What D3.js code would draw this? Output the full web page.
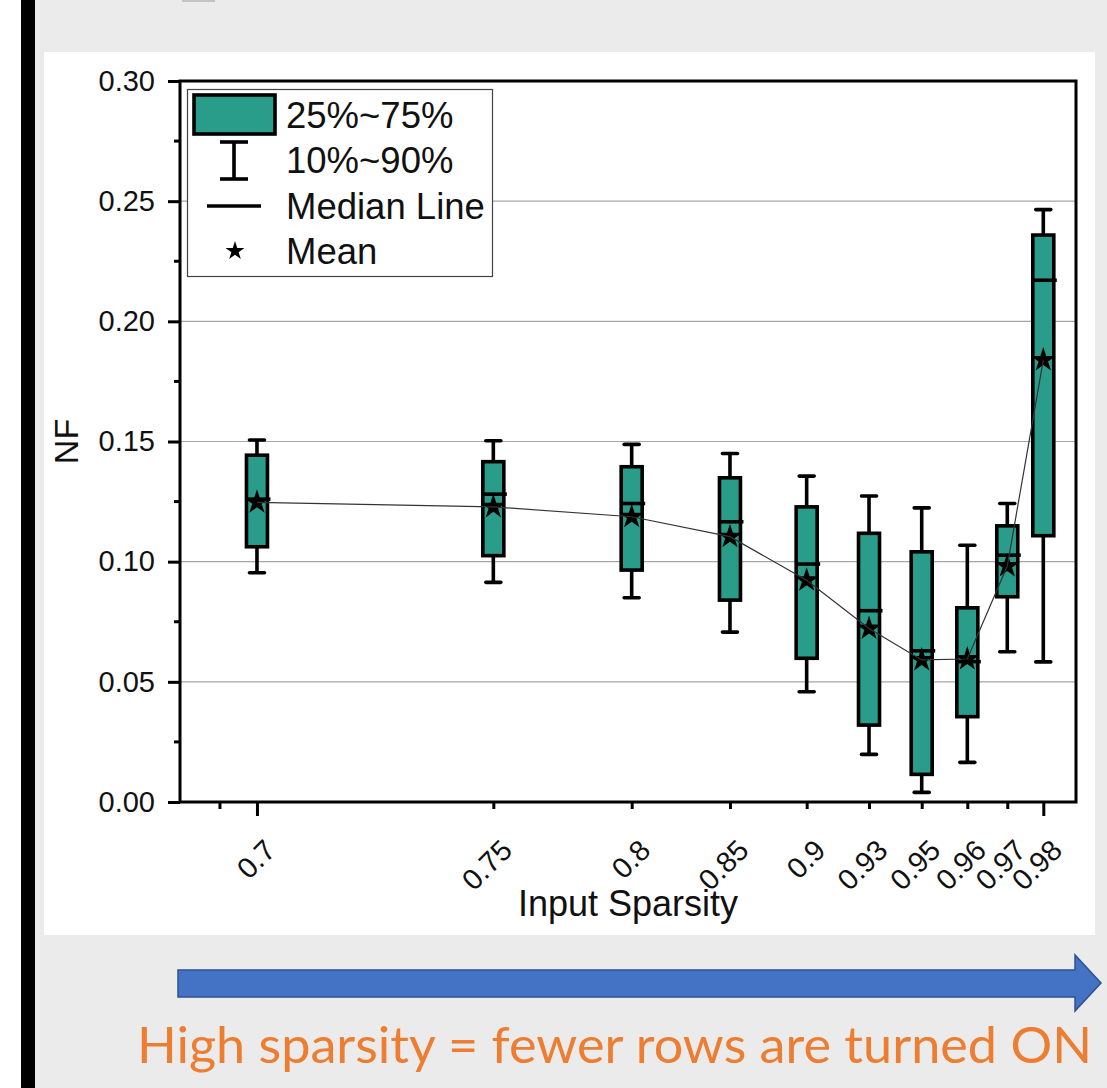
<!DOCTYPE html>
<html>
<head>
<meta charset="utf-8">
<script src="https://cdn.jsdelivr.net/npm/d3@7"></script>
<style>
  body { margin: 0; background: #fff; }
  svg { display: block; }
</style>
</head>
<body>
<div id="chart"></div>
<script>
// ---- data ----
const sparsity = [0.7, 0.75, 0.8, 0.85, 0.9, 0.93, 0.95, 0.96, 0.97, 0.98];
const sparsityLabels = ["0.7", "0.75", "0.8", "0.85", "0.9", "0.93", "0.95", "0.96", "0.97", "0.98"];
const p10    = [0.0954, 0.0914, 0.0850, 0.0707, 0.0459, 0.0198, 0.0040, 0.0165, 0.0625, 0.0583];
const q1     = [0.1062, 0.1025, 0.0965, 0.0840, 0.0598, 0.0320, 0.0115, 0.0355, 0.0854, 0.1108];
const median = [0.1260, 0.1281, 0.1242, 0.1166, 0.0990, 0.0796, 0.0629, 0.0584, 0.1027, 0.2171];
const q3     = [0.1443, 0.1416, 0.1395, 0.1349, 0.1228, 0.1118, 0.1041, 0.0808, 0.1149, 0.2359];
const p90    = [0.1506, 0.1503, 0.1488, 0.1450, 0.1356, 0.1273, 0.1224, 0.1068, 0.1242, 0.2465];
const mean   = [0.1247, 0.1228, 0.1187, 0.1104, 0.0923, 0.0722, 0.0591, 0.0595, 0.0982, 0.1839];

const yTicks = [0, 0.05, 0.10, 0.15, 0.20, 0.25, 0.30];
const yTickLabels = ["0.00", "0.05", "0.10", "0.15", "0.20", "0.25", "0.30"];
const legendLabels = ["25%~75%", "10%~90%", "Median Line", "Mean"];
const caption = "High sparsity = fewer rows are turned ON";

const W = 1107, H = 1088;
const margin = { top: 81, right: 1076, bottom: 802, left: 180 };
const teal = "#2a9c8a";
const font = "'Liberation Sans', Arial, sans-serif";
const sw = 3.6; // heavy Origin-style strokes

const svg = d3.select("#chart").append("svg")
    .attr("width", W).attr("height", H);

// backdrop: slide strip, grey page, white chart panel
svg.append("rect").attr("width", W).attr("height", H).attr("fill", "#ebebeb");
svg.append("rect").attr("x", 0).attr("width", 21).attr("height", H).attr("fill", "#fff");
svg.append("rect").attr("x", 21).attr("width", 14).attr("height", H).attr("fill", "#000");
svg.append("rect").attr("x", 182).attr("y", 0).attr("width", 33).attr("height", 2).attr("fill", "#c4c4c4");
svg.append("rect").attr("x", 44).attr("y", 52).attr("width", 1051).attr("height", 883).attr("fill", "#fff");

// Scales. The categories sit unevenly on the x axis in the original plot,
// so x is a piecewise linear scale over fractions of the axis length.
const axisFrac = [0.0859, 0.3497, 0.5041, 0.6138, 0.6994, 0.769, 0.8278, 0.8787, 0.9233, 0.9635];
const plotW = margin.right - margin.left;
const x = d3.scaleLinear()
    .domain(sparsity)
    .range(axisFrac.map(f => margin.left + f * plotW));

const y = d3.scaleLinear()
    .domain([0, 0.30])
    .range([margin.bottom, margin.top]);

// horizontal grid
svg.append("g")
    .selectAll("line")
    .data(yTicks.filter(t => t > 0 && t < 0.30))
    .join("line")
    .attr("x1", margin.left).attr("x2", margin.right)
    .attr("y1", d => y(d)).attr("y2", d => y(d))
    .attr("stroke", "#a6a6a6").attr("stroke-width", 1.2);

// boxes
const boxW = 21, capW = 15;
const boxes = svg.append("g").selectAll("g")
    .data(sparsity.map((s, i) => ({ s, p10: p10[i], q1: q1[i], med: median[i], q3: q3[i], p90: p90[i], mean: mean[i] })))
    .join("g")
    .attr("transform", d => `translate(${x(d.s)},0)`);

boxes.append("line")
    .attr("y1", d => y(d.p90)).attr("y2", d => y(d.q3))
    .attr("stroke", "#000").attr("stroke-width", sw);
boxes.append("line")
    .attr("y1", d => y(d.q1)).attr("y2", d => y(d.p10))
    .attr("stroke", "#000").attr("stroke-width", sw);
boxes.append("line")
    .attr("x1", -capW / 2).attr("x2", capW / 2)
    .attr("y1", d => y(d.p90)).attr("y2", d => y(d.p90))
    .attr("stroke", "#000").attr("stroke-width", sw).attr("stroke-linecap", "round");
boxes.append("line")
    .attr("x1", -capW / 2).attr("x2", capW / 2)
    .attr("y1", d => y(d.p10)).attr("y2", d => y(d.p10))
    .attr("stroke", "#000").attr("stroke-width", sw).attr("stroke-linecap", "round");
boxes.append("rect")
    .attr("x", -boxW / 2).attr("width", boxW)
    .attr("y", d => y(d.q3)).attr("height", d => y(d.q1) - y(d.q3))
    .attr("fill", teal).attr("stroke", "#000").attr("stroke-width", sw);
boxes.append("line")
    .attr("x1", -boxW / 2).attr("x2", boxW / 2 + 3)
    .attr("y1", d => y(d.med)).attr("y2", d => y(d.med))
    .attr("stroke", "#000").attr("stroke-width", sw);

// mean connector over the boxes, then the stars
svg.append("path")
    .datum(sparsity.map((s, i) => [s, mean[i]]))
    .attr("fill", "none")
    .attr("stroke", "#333").attr("stroke-width", 1.2)
    .attr("d", d3.line().x(d => x(d[0])).y(d => y(d[1])));

boxes.append("path")
    .attr("transform", d => `translate(0,${y(d.mean)})`)
    .attr("d", d3.symbol(d3.symbolStar, 190))
    .attr("fill", "#000");

// y axis
const yAxis = svg.append("g")
    .attr("transform", `translate(${margin.left},0)`)
    .call(d3.axisLeft(y).tickValues(yTicks).tickSize(12).tickFormat((d, i) => yTickLabels[i]));
yAxis.select(".domain").remove();
yAxis.selectAll(".tick line").attr("stroke", "#000").attr("stroke-width", 3);
yAxis.selectAll(".tick text")
    .attr("x", -25).attr("font-family", font).attr("font-size", 29).attr("fill", "#111");

// y minor ticks
svg.append("g").selectAll("line")
    .data(d3.range(0.025, 0.30, 0.05))
    .join("line")
    .attr("x1", margin.left - 6).attr("x2", margin.left)
    .attr("y1", d => y(d)).attr("y2", d => y(d))
    .attr("stroke", "#000").attr("stroke-width", 3);

// x axis: major ticks at the ends, minor in between
const xAxis = svg.append("g")
    .attr("transform", `translate(0,${margin.bottom})`)
    .call(d3.axisBottom(x).tickValues(sparsity).tickSize(7).tickFormat((d, i) => sparsityLabels[i]));
xAxis.select(".domain").remove();
xAxis.selectAll(".tick line")
    .attr("stroke", "#000").attr("stroke-width", 3)
    .attr("y2", (d, i) => (i === 0 || i === sparsity.length - 1) ? 14 : 7);
xAxis.selectAll(".tick text")
    .attr("font-family", font).attr("font-size", 29).attr("fill", "#111")
    .attr("text-anchor", "end")
    .attr("dy", null)
    .attr("y", 0)
    .attr("transform", "translate(20,50) rotate(-45)");

// extra minor tick left of the first category
svg.append("line")
    .attr("x1", margin.left + 0.0446 * plotW).attr("x2", margin.left + 0.0446 * plotW)
    .attr("y1", margin.bottom).attr("y2", margin.bottom + 7)
    .attr("stroke", "#000").attr("stroke-width", 3);

// frame
svg.append("rect")
    .attr("x", margin.left).attr("y", margin.top)
    .attr("width", plotW).attr("height", margin.bottom - margin.top)
    .attr("fill", "none").attr("stroke", "#000").attr("stroke-width", 3);

// axis titles
svg.append("text")
    .attr("x", (margin.left + margin.right) / 2).attr("y", 916)
    .attr("text-anchor", "middle")
    .attr("font-family", font).attr("font-size", 36).attr("fill", "#111")
    .text("Input Sparsity");
svg.append("text")
    .attr("transform", `translate(78,${(margin.top + margin.bottom) / 2}) rotate(-90)`)
    .attr("text-anchor", "middle")
    .attr("font-family", font).attr("font-size", 34).attr("fill", "#111")
    .text("NF");

// legend
const lg = svg.append("g");
lg.append("rect")
    .attr("x", 187.5).attr("y", 89.5).attr("width", 305).attr("height", 187)
    .attr("fill", "#fff").attr("stroke", "#444").attr("stroke-width", 1.2);
lg.append("rect")
    .attr("x", 194).attr("y", 95).attr("width", 81).attr("height", 39)
    .attr("fill", teal).attr("stroke", "#000").attr("stroke-width", sw);
lg.append("line").attr("x1", 234).attr("x2", 234).attr("y1", 142).attr("y2", 179)
    .attr("stroke", "#000").attr("stroke-width", sw);
lg.append("line").attr("x1", 220).attr("x2", 248).attr("y1", 142).attr("y2", 142)
    .attr("stroke", "#000").attr("stroke-width", sw);
lg.append("line").attr("x1", 220).attr("x2", 248).attr("y1", 179).attr("y2", 179)
    .attr("stroke", "#000").attr("stroke-width", sw);
lg.append("line").attr("x1", 207).attr("x2", 261).attr("y1", 206).attr("y2", 206)
    .attr("stroke", "#000").attr("stroke-width", sw);
lg.append("path")
    .attr("transform", "translate(235,251)")
    .attr("d", d3.symbol(d3.symbolStar, 110))
    .attr("fill", "#000");
lg.selectAll("text.lab")
    .data(legendLabels)
    .join("text")
    .attr("class", "lab")
    .attr("x", 286).attr("y", (d, i) => 128 + i * 45.3)
    .attr("font-family", font).attr("font-size", 36.5).attr("fill", "#111")
    .text(d => d);

// annotation arrow and caption
svg.append("path")
    .attr("d", "M178,970 L1075,970 L1075,955 L1101,983 L1075,1011 L1075,997 L178,997 Z")
    .attr("fill", "#4472c4").attr("stroke", "#2f528f").attr("stroke-width", 1.5);
svg.append("text")
    .attr("x", 137).attr("y", 1063)
    .attr("font-family", "Lato, 'Open Sans', sans-serif").attr("font-size", 51)
    .attr("fill", "#ed7d31")
    .attr("textLength", 955).attr("lengthAdjust", "spacingAndGlyphs")
    .text(caption);
</script>
</body>
</html>
